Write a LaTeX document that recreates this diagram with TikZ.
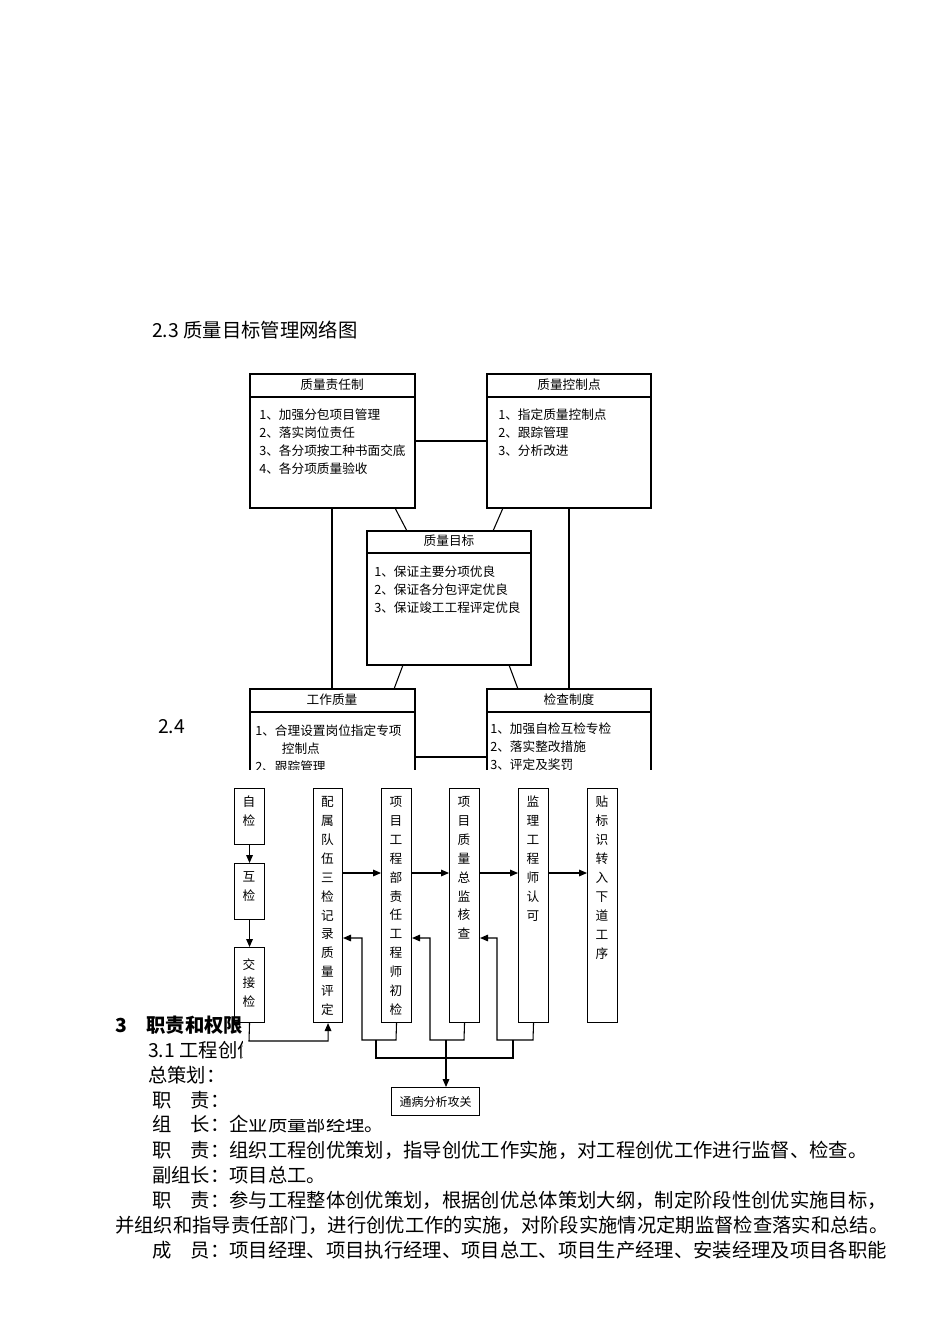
\documentclass[tikz,border=0pt]{standalone}
\usepackage{fontspec}
\setmainfont{Liberation Serif}
\newfontfamily\cjk{Noto Sans CJK SC}
\usetikzlibrary{arrows.meta}
\begin{document}
\begin{tikzpicture}[x=0.75pt,y=-0.75pt,
  body/.style={anchor=west,inner sep=0pt,font=\cjk\fontsize{14.5}{16}\selectfont},
  bx/.style={draw,line width=0.8pt,inner sep=0pt},
  hd/.style={inner sep=0pt,font=\cjk\fontsize{9.5}{11}\selectfont},
  item/.style={anchor=north west,inner sep=0pt,align=left,font=\cjk\fontsize{9.5}{13.5}\selectfont},
  vt/.style={anchor=north,inner sep=0pt,align=center,font=\cjk\fontsize{9.5}{14.2}\selectfont},
  ln/.style={line width=0.8pt},
  ar/.style={line width=0.8pt,-{Triangle[length=6pt,width=5pt]}}]
\useasboundingbox (0,0) rectangle (950,1344);
\fill[white] (0,0) rectangle (950,1344);
% headings
\node[body] (h23) at (152,330) {2.3 质量目标管理网络图};
\node[body] (h24) at (158,727) {2.4};
% upper diagram
\draw[bx] (250,374) rectangle (415,508); \draw[ln] (250,397) -- (415,397);
\node[hd] (t1) at (332,385) {质量责任制};
\node[item] (i1) at (259,409) {1、加强分包项目管理\\2、落实岗位责任\\3、各分项按工种书面交底\\4、各分项质量验收};
\draw[bx] (487,374) rectangle (651,508); \draw[ln] (487,397) -- (651,397);
\node[hd] (t2) at (569,385) {质量控制点};
\node[item] (i2) at (498,409) {1、指定质量控制点\\2、跟踪管理\\3、分析改进};
\draw[bx] (367,531) rectangle (531,665); \draw[ln] (367,553) -- (531,553);
\node[hd] (t3) at (449,541) {质量目标};
\node[item] (i3) at (374,565) {1、保证主要分项优良\\2、保证各分包评定优良\\3、保证竣工工程评定优良};
\draw[ln] (415,441) -- (487,441);
\draw[ln] (395,508) -- (407,531);
\draw[ln] (503,508) -- (493,531);
\draw[ln] (403,665) -- (394,689);
\draw[ln] (509,665) -- (518,689);
\draw[ln] (332,508) -- (332,689);
\draw[ln] (569,508) -- (569,689);
\draw[bx] (250,689) rectangle (415,800); \draw[ln] (250,712) -- (415,712);
\node[hd] (t4) at (332,700) {工作质量};
\node[item] (i4) at (255,724) {1、合理设置岗位指定专项\\\hspace*{2.1em}控制点\\2、跟踪管理};
\draw[bx] (487,689) rectangle (651,800); \draw[ln] (487,712) -- (651,712);
\node[hd] (t5) at (569,700) {检查制度};
\node[item] (i5) at (490,722) {1、加强自检互检专检\\2、落实整改措施\\3、评定及奖罚};
\draw[ln] (415,757) -- (487,757);
% section 3 text
\node[body,font=\cjk\bfseries\fontsize{14.5}{16}\selectfont] (s3) at (115,1025) {3\quad 职责和权限};
\node[body] (l1) at (148,1050) {3.1 工程创优领导小组};
\node[body] (l2) at (148,1075) {总策划：};
\node[body] (l3) at (152,1100) {职\quad 责：};
\node[body] (l4) at (152,1124) {组\quad 长：企业质量部经理。};
% cover (pasted image)
\fill[white] (243,770) rectangle (662,1119);
\node[body] (l5) at (152,1150) {职\quad 责：组织工程创优策划，指导创优工作实施，对工程创优工作进行监督、检查。};
\node[body] (l6) at (152,1175) {副组长：项目总工。};
\node[body] (l7) at (152,1200) {职\quad 责：参与工程整体创优策划，根据创优总体策划大纲，制定阶段性创优实施目标，};
\node[body] (l8) at (115,1225) {并组织和指导责任部门，进行创优工作的实施，对阶段实施情况定期监督检查落实和总结。};
\node[body] (l9) at (152,1250) {成\quad 员：项目经理、项目执行经理、项目总工、项目生产经理、安装经理及项目各职能};
% lower flow diagram
\node[bx,minimum width=22.5pt,minimum height=42pt,anchor=north west] (zj) at (234,788) {};
\node[vt] at (249,796) {自\\检};
\node[bx,minimum width=22.5pt,minimum height=42pt,anchor=north west] (hj) at (234,863) {};
\node[vt] at (249,871) {互\\检};
\node[bx,minimum width=22.5pt,minimum height=56.25pt,anchor=north west] (jj) at (234,947) {};
\node[vt] at (249,958) {交\\接\\检};
\node[bx,minimum width=21.75pt,minimum height=175.5pt,anchor=north west] (pd) at (313,788) {};
\node[vt] at (327.5,796) {配\\属\\队\\伍\\三\\检\\记\\录\\质\\量\\评\\定};
\node[bx,minimum width=22.5pt,minimum height=175.5pt,anchor=north west] (xm) at (381,788) {};
\node[vt] at (396,796) {项\\目\\工\\程\\部\\责\\任\\工\\程\\师\\初\\检};
\node[bx,minimum width=22.5pt,minimum height=175.5pt,anchor=north west] (zl) at (449,788) {};
\node[vt] at (464,796) {项\\目\\质\\量\\总\\监\\核\\查};
\node[bx,minimum width=22.5pt,minimum height=175.5pt,anchor=north west] (jl) at (518,788) {};
\node[vt] at (533,796) {监\\理\\工\\程\\师\\认\\可};
\node[bx,minimum width=22.5pt,minimum height=175.5pt,anchor=north west] (tb) at (587,788) {};
\node[vt] at (602,796) {贴\\标\\识\\转\\入\\下\\道\\工\\序};
\node[bx,minimum width=66pt,minimum height=21pt,anchor=north west,font=\cjk\fontsize{9}{10}\selectfont] (tf) at (391,1087) {通病分析攻关};
\draw[ar] (zj) -- (hj);
\draw[ar] (hj) -- (jj);
\draw[ar] (jj.south) -- (249,1041) -| (pd.south);
\draw[ar] (pd.east |- 0,873) -- (xm.west |- 0,873);
\draw[ar] (xm.east |- 0,873) -- (zl.west |- 0,873);
\draw[ar] (zl.east |- 0,873) -- (jl.west |- 0,873);
\draw[ar] (jl.east |- 0,873) -- (tb.west |- 0,873);
\draw[ar] (xm.south) -- (396,1040) -- (362,1040) -- (362,938) -- (pd.east |- 0,938);
\draw[ar] (zl.south) -- (464,1040) -- (430,1040) -- (430,938) -- (xm.east |- 0,938);
\draw[ar] (jl.south) -- (533,1040) -- (497,1040) -- (497,938) -- (zl.east |- 0,938);
\draw[ln] (376,1040) -- (376,1058) -- (513,1058) -- (513,1040);
\draw[ar] (446,1040) -- (tf.north -| 446,0);
\end{tikzpicture}
\end{document}
